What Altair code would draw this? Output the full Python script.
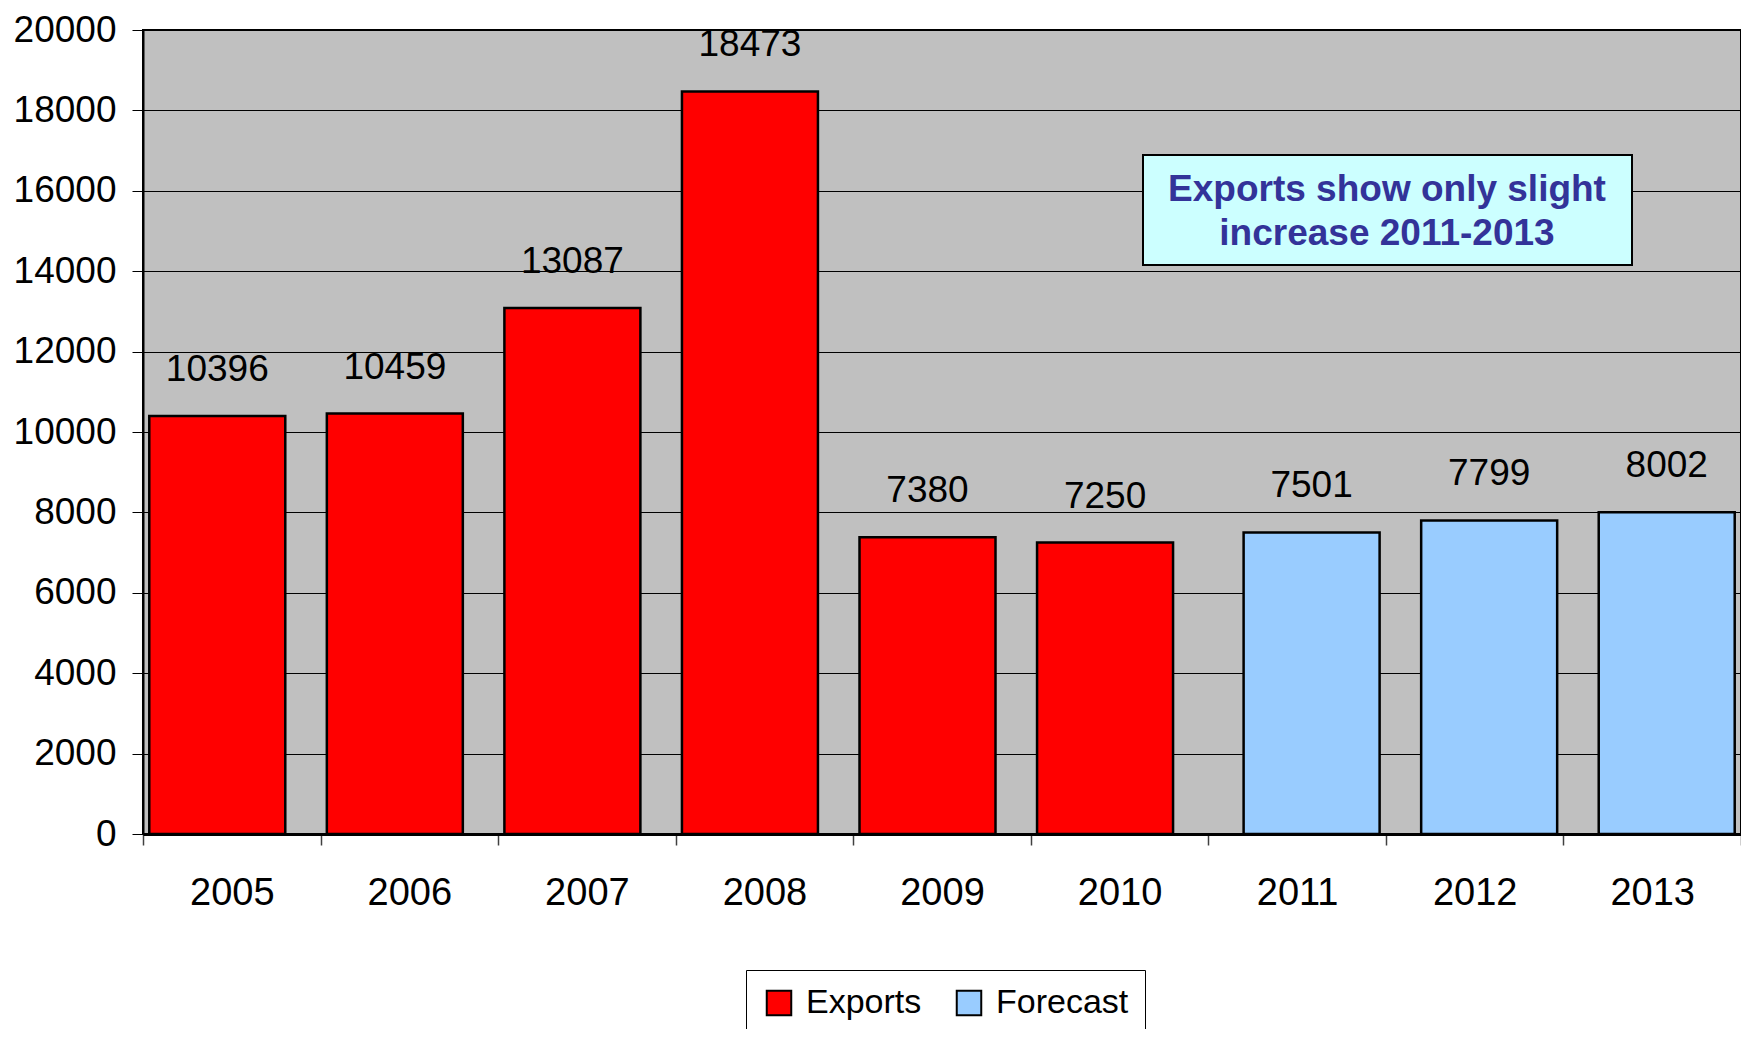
import altair as alt
import pandas as pd

years = ["2005", "2006", "2007", "2008", "2009", "2010", "2011", "2012", "2013"]
export_years = ["2005", "2006", "2007", "2008", "2009", "2010"]
export_values = [10396, 10459, 13087, 18473, 7380, 7250]
forecast_years = ["2011", "2012", "2013"]
forecast_values = [7501, 7799, 8002]
series_names = ["Exports", "Forecast"]
series_colors = ["#FF0000", "#99CCFF"]
y_ticks = list(range(0, 20001, 2000))
note_lines = ["Exports show only slight", "increase 2011-2013"]

rows = [{"year": y, "value": v, "series": "Exports"} for y, v in zip(export_years, export_values)]
rows += [{"year": y, "value": v, "series": "Forecast"} for y, v in zip(forecast_years, forecast_values)]
df = pd.DataFrame(rows)
note_df = pd.DataFrame({"note": [" / ".join(note_lines)]})

FONT = "Liberation Sans"

x_enc = alt.X(
    "year:N",
    sort=years,
    scale=alt.Scale(domain=years, paddingInner=0, paddingOuter=0),
    axis=alt.Axis(
        title=None, labelAngle=0, tickBand="extent", ticks=True, tickSize=11,
        labelPadding=29, labelFontSize=38, domainWidth=3, domainColor="black",
        tickColor="#404040", tickWidth=1.5, grid=False,
    ),
)
y_enc = alt.Y(
    "value:Q",
    scale=alt.Scale(domain=[0, 20000], nice=False),
    axis=alt.Axis(
        title=None, values=y_ticks, format="d", tickSize=11, labelPadding=16,
        labelFontSize=37, grid=True, gridColor="black", gridWidth=1,
        domainColor="black", domainWidth=2, tickColor="black", tickWidth=1,
    ),
)
color_enc = alt.Color(
    "series:N",
    scale=alt.Scale(domain=series_names, range=series_colors),
    legend=alt.Legend(
        title=None, orient="none", legendX=603, legendY=940, direction="horizontal",
        symbolType="square", symbolSize=600, symbolStrokeColor="black",
        symbolStrokeWidth=2, symbolOpacity=1, labelFontSize=34, labelFont=FONT,
        labelColor="black", padding=16, strokeColor="black", fillColor="white",
        columnPadding=30, labelOffset=10,
    ),
)

base = alt.Chart(df)
bar_style = dict(width=136, stroke="black", strokeWidth=2.5, opacity=1)
text_style = dict(dy=-46, baseline="middle", align="center", fontSize=37, font=FONT, color="black")

bars_e = base.transform_filter(alt.datum.series == "Exports").mark_bar(
    xOffset=-14.5, **bar_style).encode(x=x_enc, y=y_enc, color=color_enc)
bars_f = base.transform_filter(alt.datum.series == "Forecast").mark_bar(
    xOffset=14.5, **bar_style).encode(x=x_enc, y=y_enc, color=color_enc)
labels_e = base.transform_filter(alt.datum.series == "Exports").mark_text(
    xOffset=-14.5, **text_style).encode(x=x_enc, y=y_enc, text=alt.Text("value:Q", format="d"))
labels_f = base.transform_filter(alt.datum.series == "Forecast").mark_text(
    xOffset=14.5, **text_style).encode(x=x_enc, y=y_enc, text=alt.Text("value:Q", format="d"))

note_box = alt.Chart(note_df).mark_rect(fill="#CCFFFF", stroke="black", strokeWidth=2).encode(
    x=alt.value(1000), x2=alt.value(1489), y=alt.value(125), y2=alt.value(235))
note_text = alt.Chart(note_df).mark_text(
    text=note_lines, fontSize=37, fontWeight="bold", font=FONT, color="#333399",
    align="center", baseline="middle", lineHeight=44,
).encode(x=alt.value(1244), y=alt.value(160))

chart = alt.layer(bars_e, bars_f, labels_e, labels_f, note_box, note_text).properties(
    width=1598, height=804,
    padding={"left": 135, "top": 22, "right": 0, "bottom": 195},
    autosize=alt.AutoSizeParams(type="none"),
).configure_view(fill="#C0C0C0", stroke="black", strokeWidth=2).configure_axis(
    labelFont=FONT, labelColor="black")

chart.save("out.html", embed_options={"renderer": "svg", "actions": False})
